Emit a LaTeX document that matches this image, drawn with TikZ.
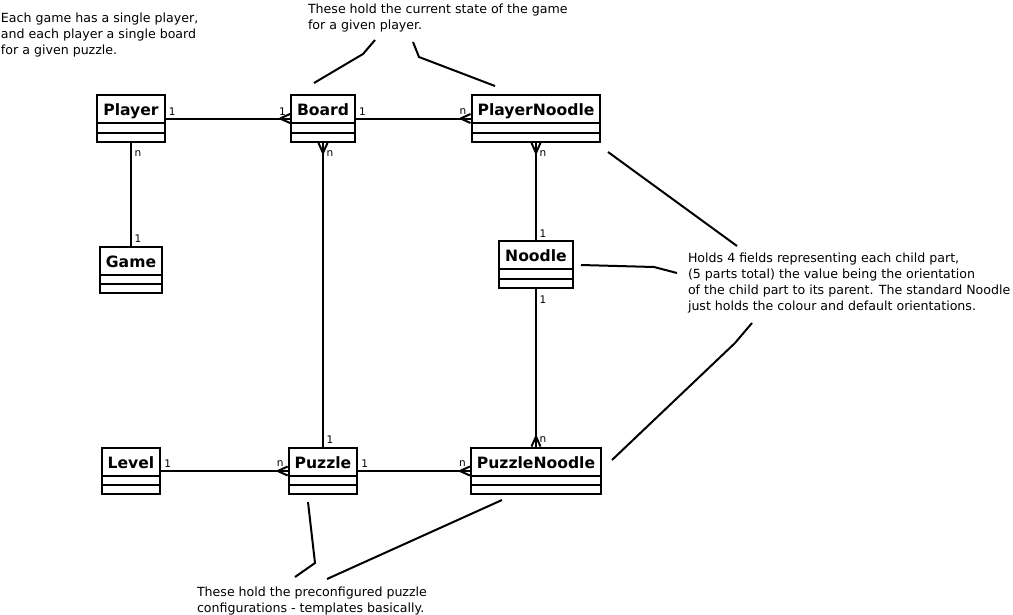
\documentclass[tikz,border=0pt]{standalone}
\usepackage{fontspec}
\setmainfont{DejaVu Sans}
\usetikzlibrary{shapes.multipart,positioning,calc}

\tikzset{
    crow/.pic={\draw (-10,0) -- (0,4.5) (-10,0) -- (0,-4.5);}
}

\begin{document}
\begin{tikzpicture}[
    x=1pt, y=-1pt,
    line width=2pt,
    umlclass/.style={
        rectangle split,
        rectangle split parts=3,
        draw,
        font=\fontsize{15.6}{16}\selectfont\bfseries,
        inner xsep=6pt,
        inner ysep=1pt,
        rectangle split empty part height=1pt,
        rectangle split empty part depth=0pt,
        execute at begin node={\rule[-5.5pt]{0pt}{24pt}}
    },
    mult/.style={font=\fontsize{10.5}{11}\selectfont, inner sep=0pt},
    lab right/.style={mult, xshift=6.5pt, yshift=7pt},
    lab left/.style={mult, xshift=-7.5pt, yshift=7pt},
    lab below/.style={mult, xshift=7pt, yshift=-10.5pt},
    lab above/.style={mult, xshift=7pt, yshift=6.5pt},
    note/.style={align=left, font=\fontsize{12.6}{16}\selectfont, inner sep=0pt, anchor=north west}
]
\useasboundingbox (0,0) rectangle (1013,614);

% classes
\node[umlclass] (player) at (131,118.5) {Player};
\node[umlclass] (board) at (323,118.5) {Board};
\node[umlclass] (playernoodle) at (536,118.5) {PlayerNoodle};
\node[umlclass] (game) at (131,270) {Game};
\node[umlclass] (noodle) at (536,264.5) {Noodle};
\node[umlclass] (level) at (131,471) {Level};
\node[umlclass] (puzzle) at (323,471) {Puzzle};
\node[umlclass] (puzzlenoodle) at (536,471) {PuzzleNoodle};

% associations
\draw (player) -- node[lab right, at start] (m1) {1} node[lab left, at end] (m2) {1} (board);
\draw (board) -- node[lab right, at start] (m3) {1} node[lab left, at end] (m4) {n} (playernoodle);
\draw (player) -- node[lab below, at start] (m5) {n} node[lab above, at end] (m6) {1} (game);
\draw (board) -- node[lab below, at start] (m7) {n} node[lab above, at end] (m8) {1} (puzzle);
\draw (playernoodle) -- node[lab below, at start] (m9) {n} node[lab above, at end] (m10) {1} (noodle);
\draw (noodle) -- node[lab below, at start] (m11) {1} node[lab above, at end] (m12) {n} (puzzlenoodle);
\draw (level) -- node[lab right, at start] (m13) {1} node[lab left, at end] (m14) {n} (puzzle);
\draw (puzzle) -- node[lab right, at start] (m15) {1} node[lab left, at end] (m16) {n} (puzzlenoodle);

\pic at (board.west) {crow};
\pic at (playernoodle.west) {crow};
\pic at (puzzle.west) {crow};
\pic at (puzzlenoodle.west) {crow};
\pic[rotate=90] at (board.south) {crow};
\pic[rotate=90] at (playernoodle.south) {crow};
\pic[rotate=-90] at (puzzlenoodle.north) {crow};

% notes
\node[note] (gamenote) at (0,12) {Each game has a single player,\\and each player a single board\\for a given puzzle.};
\node[note] (statenote) at (307,2.5) {These hold the current state of the game\\for a given player.};
\node[note] (noodlenote) at (687,251.5) {Holds 4 fields representing each child part,\\(5 parts total) the value being the orientation\\of the child part to its parent. The standard Noodle\\just holds the colour and default orientations.};
\node[note] (puzzlenote) at (196,585.5) {These hold the preconfigured puzzle\\configurations - templates basically.};

\coordinate (sn1) at (375,40);
\coordinate (sn2) at (363,54);
\coordinate (sn3) at (314,83);
\coordinate (sn4) at (413,42);
\coordinate (sn5) at (419,57);
\coordinate (sn6) at (495,86);
\draw (sn1) -- (sn2) -- (sn3);
\draw (sn4) -- (sn5) -- (sn6);

\coordinate (nn1) at (608,152);
\coordinate (nn2) at (737,246);
\coordinate (nn3) at (581,265);
\coordinate (nn4) at (654,267);
\coordinate (nn5) at (677,273);
\coordinate (nn6) at (612,460);
\coordinate (nn7) at (735,343);
\coordinate (nn8) at (752,323);
\draw (nn1) -- (nn2);
\draw (nn3) -- (nn4) -- (nn5);
\draw (nn6) -- (nn7) -- (nn8);

\coordinate (pn1) at (308,502);
\coordinate (pn2) at (315,563);
\coordinate (pn3) at (295,577);
\coordinate (pn4) at (502,500);
\coordinate (pn5) at (327,579);
\draw (pn1) -- (pn2) -- (pn3);
\draw (pn4) -- (pn5);

\end{tikzpicture}
\end{document}
